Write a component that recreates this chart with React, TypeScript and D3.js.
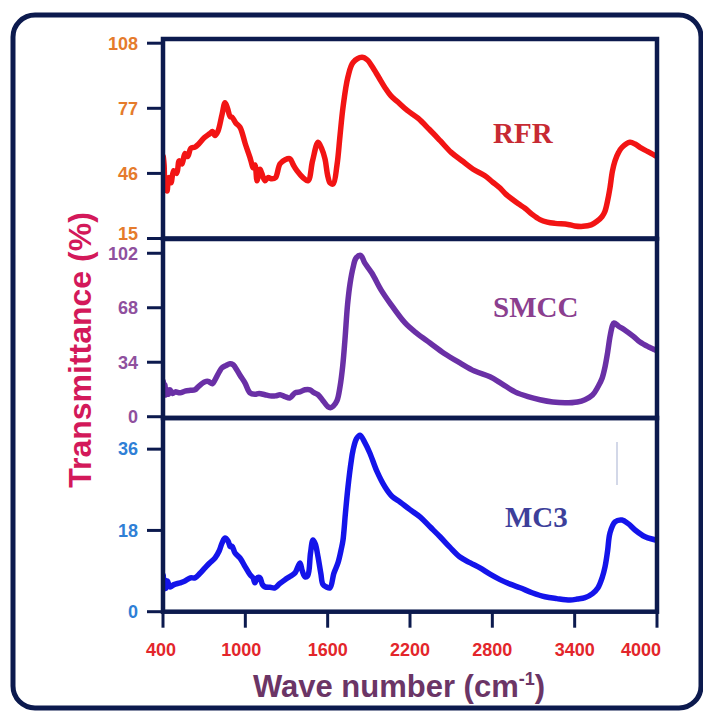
import React from "react";
import * as d3 from "d3";

// FTIR transmittance spectra: [wave number (cm-1), transmittance (%)]
const rfrSpectrum: [number, number][] = [
  [402, 54], [408, 50], [414, 38], [422, 44], [430, 37.6], [442, 44], [458, 41.5], [478, 47.3],
  [500, 46], [518, 52], [538, 50.5], [560, 55.5], [580, 54], [603, 58], [633, 58.5], [660, 60],
  [700, 63], [742, 65], [760, 66], [779, 64], [800, 66], [830, 74], [852, 79.6], [870, 77],
  [890, 73], [903, 72.8], [930, 70], [961, 68], [1000, 60], [1034, 53.5], [1045, 51], [1056, 48.7],
  [1070, 50], [1085, 42.5], [1095, 45], [1107, 48], [1120, 46], [1143, 42.5], [1165, 44],
  [1194, 43.4], [1220, 44], [1253, 50.6], [1290, 52.5], [1325, 53], [1350, 50], [1376, 47.3],
  [1420, 44], [1457, 42.5], [1490, 52], [1530, 60.8], [1555, 58], [1580, 53], [1600, 45],
  [1617, 41.5], [1640, 41], [1668, 50], [1690, 64], [1712, 77.6], [1748, 92], [1785, 98.8],
  [1850, 101.3], [1890, 100], [1923, 97], [1970, 92], [2018, 86.8], [2060, 83], [2112, 80],
  [2180, 76], [2258, 72.3], [2340, 67], [2418, 61.7], [2500, 56], [2579, 52], [2660, 48],
  [2746, 44.9], [2800, 42], [2856, 39], [2900, 36], [2943, 33.8], [2990, 31.5], [3038, 29.4],
  [3090, 26.5], [3147, 24], [3200, 22.8], [3257, 22.2], [3351, 21.7], [3400, 21], [3461, 20.8],
  [3520, 21.5], [3563, 23.2], [3600, 25.5], [3621, 28], [3640, 33], [3657, 39], [3675, 47],
  [3694, 52], [3720, 56], [3745, 58.4], [3803, 60.8], [3840, 60], [3876, 58.4], [3930, 56.5],
  [3985, 54.5], [4000, 54],
];

const smccSpectrum: [number, number][] = [
  [402, 22], [408, 14], [414, 20], [420, 13.5], [430, 17], [440, 14], [451, 16.8], [470, 14.5],
  [490, 15.5], [524, 14.9], [560, 16], [600, 16.5], [633, 16.8], [660, 19], [706, 21.8], [730, 22],
  [760, 20.5], [779, 23], [810, 28], [830, 30.5], [860, 32], [888, 33], [910, 32.5], [925, 31],
  [960, 26], [998, 21], [1034, 14.9], [1070, 14], [1100, 14.5], [1143, 13.7], [1180, 13],
  [1220, 13], [1253, 13.7], [1290, 12.5], [1325, 11.8], [1362, 14.9], [1398, 15.5], [1435, 16.8],
  [1471, 16.8], [1500, 15], [1530, 13.7], [1566, 10], [1602, 6.2], [1620, 5.6], [1640, 6.5],
  [1668, 10], [1690, 18.7], [1710, 32], [1726, 48], [1745, 70], [1763, 83], [1785, 93],
  [1806, 98.9], [1840, 100.7], [1870, 96], [1923, 89.5], [1990, 79], [2054, 70.9], [2164, 58.5],
  [2250, 52], [2346, 46], [2450, 39.5], [2564, 33.6], [2670, 28.5], [2783, 24.9], [2870, 20.5],
  [2965, 15.5], [3060, 12.5], [3147, 10.6], [3240, 9.2], [3330, 8.7], [3420, 9.2], [3475, 10.6],
  [3530, 13.5], [3570, 18.7], [3600, 24], [3621, 31], [3640, 40], [3657, 49.7], [3676, 57],
  [3687, 58.5], [3720, 56.5], [3767, 54], [3830, 50], [3876, 46.6], [3940, 43.5], [3985, 41.7],
  [4000, 41],
];

const mc3Spectrum: [number, number][] = [
  [402, 8], [408, 5], [414, 7], [422, 5.2], [432, 6.8], [451, 5.5], [480, 6], [524, 6.4],
  [560, 6.8], [600, 7.5], [633, 7.5], [670, 8.5], [706, 9.7], [740, 10.8], [779, 11.9],
  [810, 13.5], [830, 15.2], [852, 16.3], [875, 15.6], [890, 14.4], [903, 14.5], [925, 13],
  [961, 11.9], [998, 10], [1034, 8.2], [1056, 7.5], [1070, 6.4], [1090, 7.6], [1107, 7.5],
  [1125, 6], [1143, 5.5], [1180, 5.4], [1216, 5.3], [1250, 6.2], [1289, 7.1], [1325, 7.8],
  [1362, 8.6], [1398, 10.8], [1415, 9], [1435, 7.7], [1455, 8], [1475, 13], [1493, 15.9],
  [1510, 15], [1530, 12.1], [1550, 8.5], [1566, 6.0], [1590, 5.5], [1617, 5.3], [1645, 8.5],
  [1675, 10.8], [1700, 14], [1712, 15.9], [1730, 22], [1748, 27.6], [1770, 33], [1785, 35.8],
  [1810, 38.3], [1836, 39.1], [1870, 37.5], [1908, 35.1], [1960, 31], [2018, 27.6], [2070, 25.5],
  [2127, 24.3], [2200, 22.6], [2273, 21], [2346, 18.8], [2419, 16.6], [2490, 14.3], [2564, 12.1],
  [2640, 10.8], [2710, 9.7], [2783, 8.3], [2856, 7.1], [2930, 6.1], [3002, 5.3], [3090, 4.2],
  [3184, 3.3], [3270, 2.9], [3366, 2.6], [3420, 2.8], [3475, 3.1], [3530, 4], [3570, 5.3],
  [3600, 7.5], [3621, 9.9], [3640, 13.5], [3657, 17.4], [3694, 19.9], [3745, 20.3], [3790, 19.5],
  [3840, 18.1], [3913, 16.6], [3985, 15.9], [4000, 15.7],
];

const waveTicks = [400, 1000, 1600, 2200, 2800, 3400, 4000];
const rfrTicks = [15, 46, 77, 108];
const smccTicks = [0, 34, 68, 102];
const mc3Ticks = [0, 18, 36];
const rfrDomain = [15, 110];
const smccDomain = [-0.8, 110.9];
const mc3Domain = [0, 42.9];

const W = 703;
const H = 713;
const left = 163;
const right = 657;
const frameColor = "#0c1a4e";

const panels = [
  {
    key: "rfr", name: "RFR", data: rfrSpectrum, ticks: rfrTicks, domain: rfrDomain,
    top: 39, bottom: 238.5, line: "#f21414", tickColor: "#e57b2c", nameColor: "#c72a33",
    nameX: 493, nameY: 143,
  },
  {
    key: "smcc", name: "SMCC", data: smccSpectrum, ticks: smccTicks, domain: smccDomain,
    top: 239, bottom: 418, line: "#6a30a6", tickColor: "#8f509e", nameColor: "#8b3f8f",
    nameX: 493, nameY: 317,
  },
  {
    key: "mc3", name: "MC3", data: mc3Spectrum, ticks: mc3Ticks, domain: mc3Domain,
    top: 418, bottom: 611.7, line: "#1414ea", tickColor: "#2f7fd6", nameColor: "#3d3f9a",
    nameX: 505, nameY: 527,
  },
];

export default function App() {
  const x = d3.scaleLinear().domain([400, 4000]).range([left, right]);
  const plotBottom = panels[panels.length - 1].bottom;

  return (
    <svg
      width={W}
      height={H}
      style={{ position: "absolute", left: 0, top: 0, background: "#fff" }}
      fontFamily="Arial, 'Liberation Sans', sans-serif"
    >
      <defs>
        {panels.map((p) => (
          <clipPath id={`clip-${p.key}`} key={p.key}>
            <rect x={left + 1} y={p.top + 1} width={right - left - 2} height={p.bottom - p.top - 2} />
          </clipPath>
        ))}
      </defs>

      {/* outer rounded box */}
      <rect x={13} y={15} width={688} height={693} rx={22} fill="none" stroke={frameColor} strokeWidth={5} />

      {panels.map((p, pi) => {
        const y = d3.scaleLinear().domain(p.domain).range([p.bottom, p.top]);
        const path = d3
          .line<[number, number]>()
          .x((d) => x(d[0]))
          .y((d) => y(d[1]))
          .curve(d3.curveCatmullRom.alpha(0.5))(p.data);
        return (
          <g key={p.key}>
            <path d={path ?? ""} fill="none" stroke={p.line} strokeWidth={5.5} strokeLinejoin="round"
              strokeLinecap="round" clipPath={`url(#clip-${p.key})`} />
            {p.ticks.map((t, ti) => (
              <g key={t}>
                <line x1={147} x2={left} y1={y(t)} y2={y(t)} stroke={frameColor} strokeWidth={3} />
                <text x={138} y={y(t) + (pi === 0 && ti === 0 ? -5 : 0)} dy="0.35em" textAnchor="end"
                  fontSize={18} fontWeight="bold" fill={p.tickColor}>{t}</text>
              </g>
            ))}
            <text x={p.nameX} y={p.nameY} fontFamily="'Liberation Serif', 'Times New Roman', serif"
              fontWeight="bold" fontSize={29} fill={p.nameColor}>{p.name}</text>
          </g>
        );
      })}

      {/* faint mark in the lower panel */}
      <line x1={617} x2={617} y1={442} y2={485} stroke="#c5cbe0" strokeWidth={1.5} />

      {/* panel frames */}
      {panels.map((p) => (
        <rect key={`f-${p.key}`} x={left} y={p.top} width={right - left} height={p.bottom - p.top}
          fill="none" stroke={frameColor} strokeWidth={4.5} />
      ))}

      {/* wave number axis */}
      {waveTicks.map((t, i) => (
        <g key={t}>
          <line x1={x(t)} x2={x(t)} y1={plotBottom} y2={plotBottom + 16} stroke={frameColor} strokeWidth={3} />
          <text x={x(t) + (i === waveTicks.length - 1 ? -16 : i === 1 ? -4 : i === 0 ? -2 : 0)} y={656}
            textAnchor="middle" fontSize={18} fontWeight="bold" fill="#e3262b">{t}</text>
        </g>
      ))}

      <text x={399} y={697} textAnchor="middle" fontSize={31} fontWeight="bold" fill="#6b3566">
        Wave number (cm<tspan dy={-12} fontSize={18}>-1</tspan><tspan dy={12}>)</tspan>
      </text>

      <text transform="translate(91,350) rotate(-90)" textAnchor="middle" fontSize={32} fontWeight="bold"
        fill="#d3195a">Transmittance (%)</text>
    </svg>
  );
}
